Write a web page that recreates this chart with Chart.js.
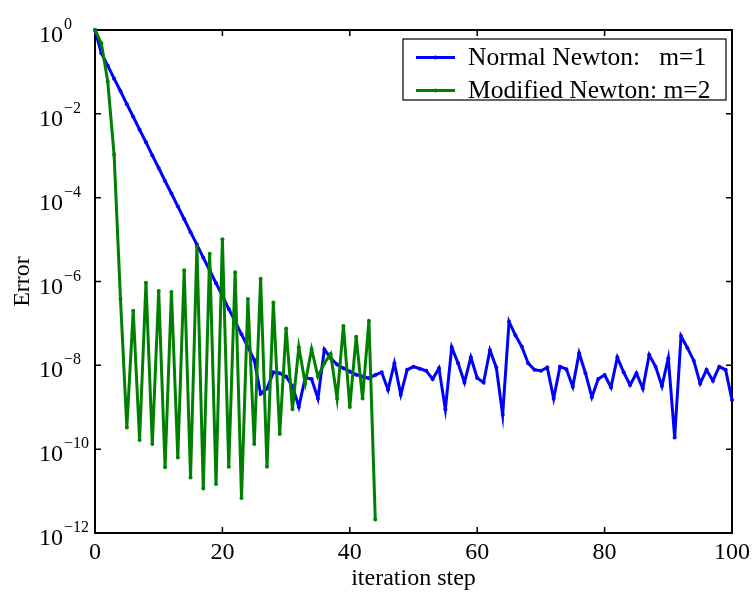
<!DOCTYPE html>
<html><head><meta charset="utf-8">
<script src="https://cdn.jsdelivr.net/npm/chart.js@4/dist/chart.umd.min.js"></script>
<style>html,body{margin:0;padding:0;background:#fff;}</style>
</head><body>
<canvas id="c" width="755" height="593"></canvas>
<script>
const steps = Array.from({length: 101}, (_, i) => i);
const normalNewtonError = [
  1, 2.8e-1, 1.41e-1, 6.9e-2, 3.5e-2, 1.7e-2, 8.5e-3, 4.2e-3, 2.1e-3, 1.02e-3,
  5.1e-4, 2.5e-4, 1.26e-4, 6.2e-5, 3.1e-5, 1.5e-5, 7.6e-6, 3.7e-6, 1.86e-6, 9.1e-7,
  4.6e-7, 2.2e-7, 1.12e-7, 5.5e-8, 2.75e-8, 1.35e-8, 2.1e-9, 2.8e-9, 6.8e-9, 6.5e-9,
  5.4e-9, 3.2e-9, 1.02e-9, 5.1e-9, 4.7e-9, 1.62e-9, 2.4e-8, 1.5e-8, 1.05e-8, 8.5e-9,
  7.1e-9, 6.0e-9, 5.4e-9, 4.9e-9, 5.9e-9, 6.8e-9, 2.6e-9, 1.12e-8, 2.0e-9, 7.8e-9,
  9.3e-9, 8.3e-9, 7.4e-9, 4.7e-9, 8.5e-9, 8.9e-10, 2.7e-8, 1.12e-8, 3.9e-9, 1.55e-8,
  5.0e-9, 3.9e-9, 2.3e-8, 8.9e-9, 6.6e-10, 1.1e-7, 5.2e-8, 2.8e-8, 1.12e-8, 7.8e-9,
  7.4e-9, 8.9e-9, 1.62e-9, 9.3e-9, 8.1e-9, 3.1e-9, 1.95e-8, 6.5e-9, 1.74e-9, 4.7e-9,
  5.9e-9, 3.0e-9, 1.55e-8, 6.8e-9, 3.4e-9, 6.5e-9, 2.8e-9, 1.78e-8, 9.3e-9, 3.2e-9,
  1.48e-8, 1.9e-10, 5.0e-8, 2.6e-8, 1.29e-8, 3.7e-9, 7.8e-9, 4.3e-9, 9.3e-9, 7.8e-9,
  1.48e-9
];
const modifiedNewtonError = [
  1, 4.8e-1, 5.9e-2, 1.05e-3, 3.8e-7, 3.3e-10, 2.0e-7, 1.66e-10, 9.3e-7, 1.32e-10,
  5.9e-7, 3.7e-11, 5.6e-7, 6.3e-11, 1.86e-6, 2.1e-11, 6.8e-6, 1.15e-11, 4.6e-6, 1.48e-11,
  1.02e-5, 3.8e-11, 1.66e-6, 6.8e-12, 3.8e-7, 1.32e-10, 1.17e-6, 3.8e-11, 3.16e-7, 2.3e-10,
  7.6e-8, 8.9e-10, 2.7e-8, 3.7e-9, 2.45e-8, 5.4e-9, 1.12e-8, 1.86e-8, 1.62e-9, 8.7e-8,
  1.02e-9, 4.8e-8, 1.62e-9, 1.15e-7, 2.1e-12
];
const seriesLabels = ['Normal Newton:   m=1', 'Modified Newton: m=2'];
const seriesColors = ['#0000ff', '#008000'];
const xTicks = [0, 20, 40, 60, 80, 100];
const yTicks = [1e-12, 1e-10, 1e-8, 1e-6, 1e-4, 1e-2, 1];
const yTickExponents = ['\u221212', '\u221210', '\u22128', '\u22126', '\u22124', '\u22122', '0'];

const FONT = '"Liberation Serif", "Times New Roman", serif';

const toPoints = arr => arr.map((v, i) => ({x: steps[i], y: v}));

const framePlugin = {
  id: 'frame',
  beforeDatasetsDraw(chart) {
    const {ctx, chartArea: a, scales: {x, y}} = chart;
    ctx.save();
    ctx.strokeStyle = '#000';
    ctx.lineWidth = 2;
    ctx.strokeRect(a.left, a.top, a.right - a.left, a.bottom - a.top);
    ctx.lineWidth = 1.5;
    const L = 6;
    ctx.beginPath();
    xTicks.forEach(v => {
      const px = x.getPixelForValue(v);
      ctx.moveTo(px, a.bottom); ctx.lineTo(px, a.bottom - L);
      ctx.moveTo(px, a.top); ctx.lineTo(px, a.top + L);
    });
    yTicks.forEach(v => {
      const py = y.getPixelForValue(v);
      ctx.moveTo(a.left, py); ctx.lineTo(a.left + L, py);
      ctx.moveTo(a.right, py); ctx.lineTo(a.right - L, py);
    });
    ctx.stroke();
    ctx.restore();
  }
};

// y tick labels as base 10 with a raised exponent
const yLabelPlugin = {
  id: 'yPowLabels',
  afterDraw(chart) {
    const {ctx, scales: {y}} = chart;
    ctx.save();
    ctx.fillStyle = '#000';
    ctx.textAlign = 'left';
    ctx.textBaseline = 'alphabetic';
    yTicks.forEach((v, i) => {
      const py = y.getPixelForValue(v);
      ctx.font = '24px ' + FONT;
      const bx = 39;
      ctx.fillText('10', bx, py + 12);
      const w = ctx.measureText('10').width;
      ctx.font = '16px ' + FONT;
      ctx.fillText(yTickExponents[i], bx + w + 1, py - 1);
    });
    ctx.restore();
  }
};

const legendPlugin = {
  id: 'boxLegend',
  afterDraw(chart) {
    const {ctx} = chart;
    const bx = 403, by = 39, bw = 323, bh = 61;
    ctx.save();
    ctx.fillStyle = '#fff';
    ctx.fillRect(bx, by, bw, bh);
    ctx.strokeStyle = '#000';
    ctx.lineWidth = 1.2;
    ctx.strokeRect(bx, by, bw, bh);
    const rows = [57.5, 90.5];
    ctx.font = '25.5px ' + FONT;
    ctx.textBaseline = 'middle';
    ctx.textAlign = 'left';
    rows.forEach((ry, i) => {
      ctx.strokeStyle = seriesColors[i];
      ctx.lineWidth = 3;
      ctx.beginPath();
      ctx.moveTo(416, ry); ctx.lineTo(455, ry);
      ctx.stroke();
      ctx.fillStyle = seriesColors[i];
      ctx.beginPath(); ctx.arc(435.5, ry, 2, 0, Math.PI * 2); ctx.fill();
      ctx.fillStyle = '#000';
      ctx.fillText(chart.data.datasets[i].label, 468, ry + 1);
    });
    ctx.restore();
  }
};

new Chart(document.getElementById('c'), {
  type: 'line',
  data: {
    datasets: [
      {
        label: seriesLabels[0], data: toPoints(normalNewtonError),
        borderColor: seriesColors[0], backgroundColor: seriesColors[0],
        borderWidth: 3, pointRadius: 2, pointBorderWidth: 0, pointBackgroundColor: seriesColors[0],
        tension: 0, clip: false, order: 1
      },
      {
        label: seriesLabels[1], data: toPoints(modifiedNewtonError),
        borderColor: seriesColors[1], backgroundColor: seriesColors[1],
        borderWidth: 3, pointRadius: 2, pointBorderWidth: 0, pointBackgroundColor: seriesColors[1],
        tension: 0, clip: false, order: 0
      }
    ]
  },
  options: {
    responsive: false,
    animation: false,
    devicePixelRatio: 1,
    layout: {padding: {left: 0, right: 19, top: 30, bottom: 0}},
    plugins: {legend: {display: false}, tooltip: {enabled: false}},
    scales: {
      x: {
        type: 'linear', min: 0, max: 100,
        afterBuildTicks: s => { s.ticks = xTicks.map(v => ({value: v})); },
        afterFit: s => { s.height = 60; },
        ticks: {font: {family: FONT, size: 24}, color: '#000', padding: 5, maxRotation: 0, autoSkip: false},
        grid: {display: false, drawTicks: false},
        border: {display: false},
        title: {display: true, text: 'iteration step', font: {family: FONT, size: 24}, color: '#000', padding: {top: 0, bottom: 0}}
      },
      y: {
        type: 'logarithmic', min: 1e-12, max: 1,
        afterBuildTicks: s => { s.ticks = yTicks.map(v => ({value: v})); },
        afterFit: s => { s.width = 95; },
        ticks: {display: false},
        grid: {display: false, drawTicks: false},
        border: {display: false},
        title: {display: true, text: 'Error', font: {family: FONT, size: 24}, color: '#000', padding: {top: 8, bottom: 0}}
      }
    }
  },
  plugins: [framePlugin, yLabelPlugin, legendPlugin]
});
</script>
</body></html>
